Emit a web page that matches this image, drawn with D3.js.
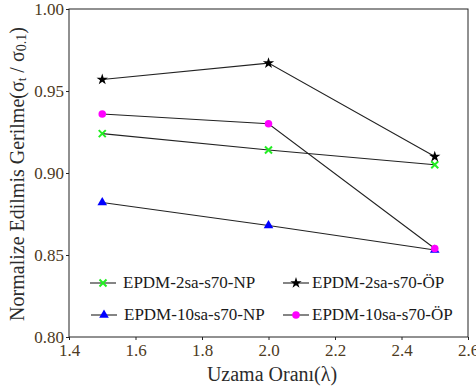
<!DOCTYPE html>
<html>
<head>
<meta charset="utf-8">
<script src="https://cdn.jsdelivr.net/npm/d3@7"></script>
<style>
  body { margin: 0; background: #fff; }
</style>
</head>
<body>
<svg width="476" height="390" font-family="Liberation Serif"></svg>
<script>
var ratios = [1.5, 2.0, 2.5];

var np2 = [0.924, 0.914, 0.905];
var op2 = [0.957, 0.967, 0.910];
var np10 = [0.882, 0.868, 0.853];
var op10 = [0.936, 0.930, 0.854];

var xTicks = [1.4, 1.6, 1.8, 2.0, 2.2, 2.4, 2.6];
var yTicks = [0.80, 0.85, 0.90, 0.95, 1.00];

var series = [
  { name: "EPDM-2sa-s70-NP", values: np2, color: "#22ee22", shape: "cross" },
  { name: "EPDM-2sa-s70-ÖP", values: op2, color: "#000000", shape: "star" },
  { name: "EPDM-10sa-s70-NP", values: np10, color: "#0000ff", shape: "triangle" },
  { name: "EPDM-10sa-s70-ÖP", values: op10, color: "#ff00ff", shape: "circle" }
];

var serif = "'Liberation Serif', 'Times New Roman', serif";

var svg = d3.select("svg");
var pLeft = 69, pRight = 468, pTop = 9, pBottom = 337;

var x = d3.scaleLinear().domain([1.4, 2.6]).range([pLeft, pRight]);
var y = d3.scaleLinear().domain([0.80, 1.00]).range([pBottom, pTop]);

var tickColor = "#4d3a22";

// frame
svg.append("rect")
   .attr("x", pLeft).attr("y", pTop)
   .attr("width", pRight - pLeft).attr("height", pBottom - pTop)
   .attr("fill", "none").attr("stroke", "#222").attr("stroke-width", 1);

var xAxis = svg.append("g")
   .attr("transform", "translate(0," + pBottom + ")")
   .call(d3.axisBottom(x).tickValues(xTicks).tickFormat(d3.format(".1f")).tickSize(3).tickPadding(4));
var yAxis = svg.append("g")
   .attr("transform", "translate(" + pLeft + ",0)")
   .call(d3.axisLeft(y).tickValues(yTicks).tickFormat(d3.format(".2f")).tickSize(3).tickPadding(2));

[xAxis, yAxis].forEach(function(a) {
  a.attr("font-family", null).attr("font-size", null);
  a.select(".domain").remove();
  a.selectAll(".tick line").attr("stroke", "#222");
  a.selectAll(".tick text")
   .attr("fill", tickColor)
   .style("font-family", serif)
   .style("font-size", "17px");
});

// axis titles
svg.append("text")
   .attr("x", 272).attr("y", 381)
   .attr("text-anchor", "middle")
   .attr("fill", "#2b2b2b")
   .style("font-family", serif)
   .style("font-size", "20px")
   .text("Uzama Oranı(λ)");

var yl = svg.append("text")
   .attr("transform", "translate(24,174) rotate(-90)")
   .attr("text-anchor", "middle")
   .attr("fill", "#2b2b2b")
   .style("font-family", serif)
   .style("font-size", "20px");
yl.append("tspan").text("Normalize Edilmis Gerilme(σ");
yl.append("tspan").style("font-size", "13px").attr("dy", 2).text("t");
yl.append("tspan").attr("dy", -2).text(" / σ");
yl.append("tspan").style("font-size", "14px").attr("dy", 2).text("0.1");
yl.append("tspan").attr("dy", -2).text(")");

var line = d3.line()
  .x(function(d, i) { return x(ratios[i]); })
  .y(function(d) { return y(d); });

function marker(g, shape, color, cx, cy) {
  if (shape === "cross") {
    g.append("path")
     .attr("d", "M" + (cx - 3.5) + "," + (cy - 3.5) + "L" + (cx + 3.5) + "," + (cy + 3.5) +
                "M" + (cx - 3.5) + "," + (cy + 3.5) + "L" + (cx + 3.5) + "," + (cy - 3.5))
     .attr("stroke", color).attr("stroke-width", 2);
  } else {
    var type = { star: d3.symbolStar, triangle: d3.symbolTriangle, circle: d3.symbolCircle }[shape];
    var size = { star: 40, triangle: 40, circle: 45 }[shape];
    g.append("path")
     .attr("d", d3.symbol().type(type).size(size)())
     .attr("transform", "translate(" + cx + "," + cy + ")")
     .attr("fill", color);
  }
}

var plot = svg.append("g");
series.forEach(function(s) {
  plot.append("path")
      .datum(s.values)
      .attr("d", line)
      .attr("fill", "none")
      .attr("stroke", "#222")
      .attr("stroke-width", 1.1);
});
series.forEach(function(s) {
  s.values.forEach(function(v, i) {
    marker(plot, s.shape, s.color, x(ratios[i]), y(v));
  });
});

// legend
var legendPos = [[90, 283], [283, 283], [91, 315], [283, 315]];
series.forEach(function(s, i) {
  var lx = legendPos[i][0], ly = legendPos[i][1];
  var g = svg.append("g");
  g.append("line")
   .attr("x1", lx).attr("x2", lx + 26)
   .attr("y1", ly).attr("y2", ly)
   .attr("stroke", "#222").attr("stroke-width", 1.1);
  marker(g, s.shape, s.color, lx + 13, ly);
  g.append("text")
   .attr("x", lx + (i % 2 === 0 ? 33 : 29)).attr("y", ly + 5)
   .attr("fill", "#1a1a1a")
   .style("font-family", serif)
   .style("font-size", "17px")
   .text(s.name);
});
</script>
</body>
</html>
